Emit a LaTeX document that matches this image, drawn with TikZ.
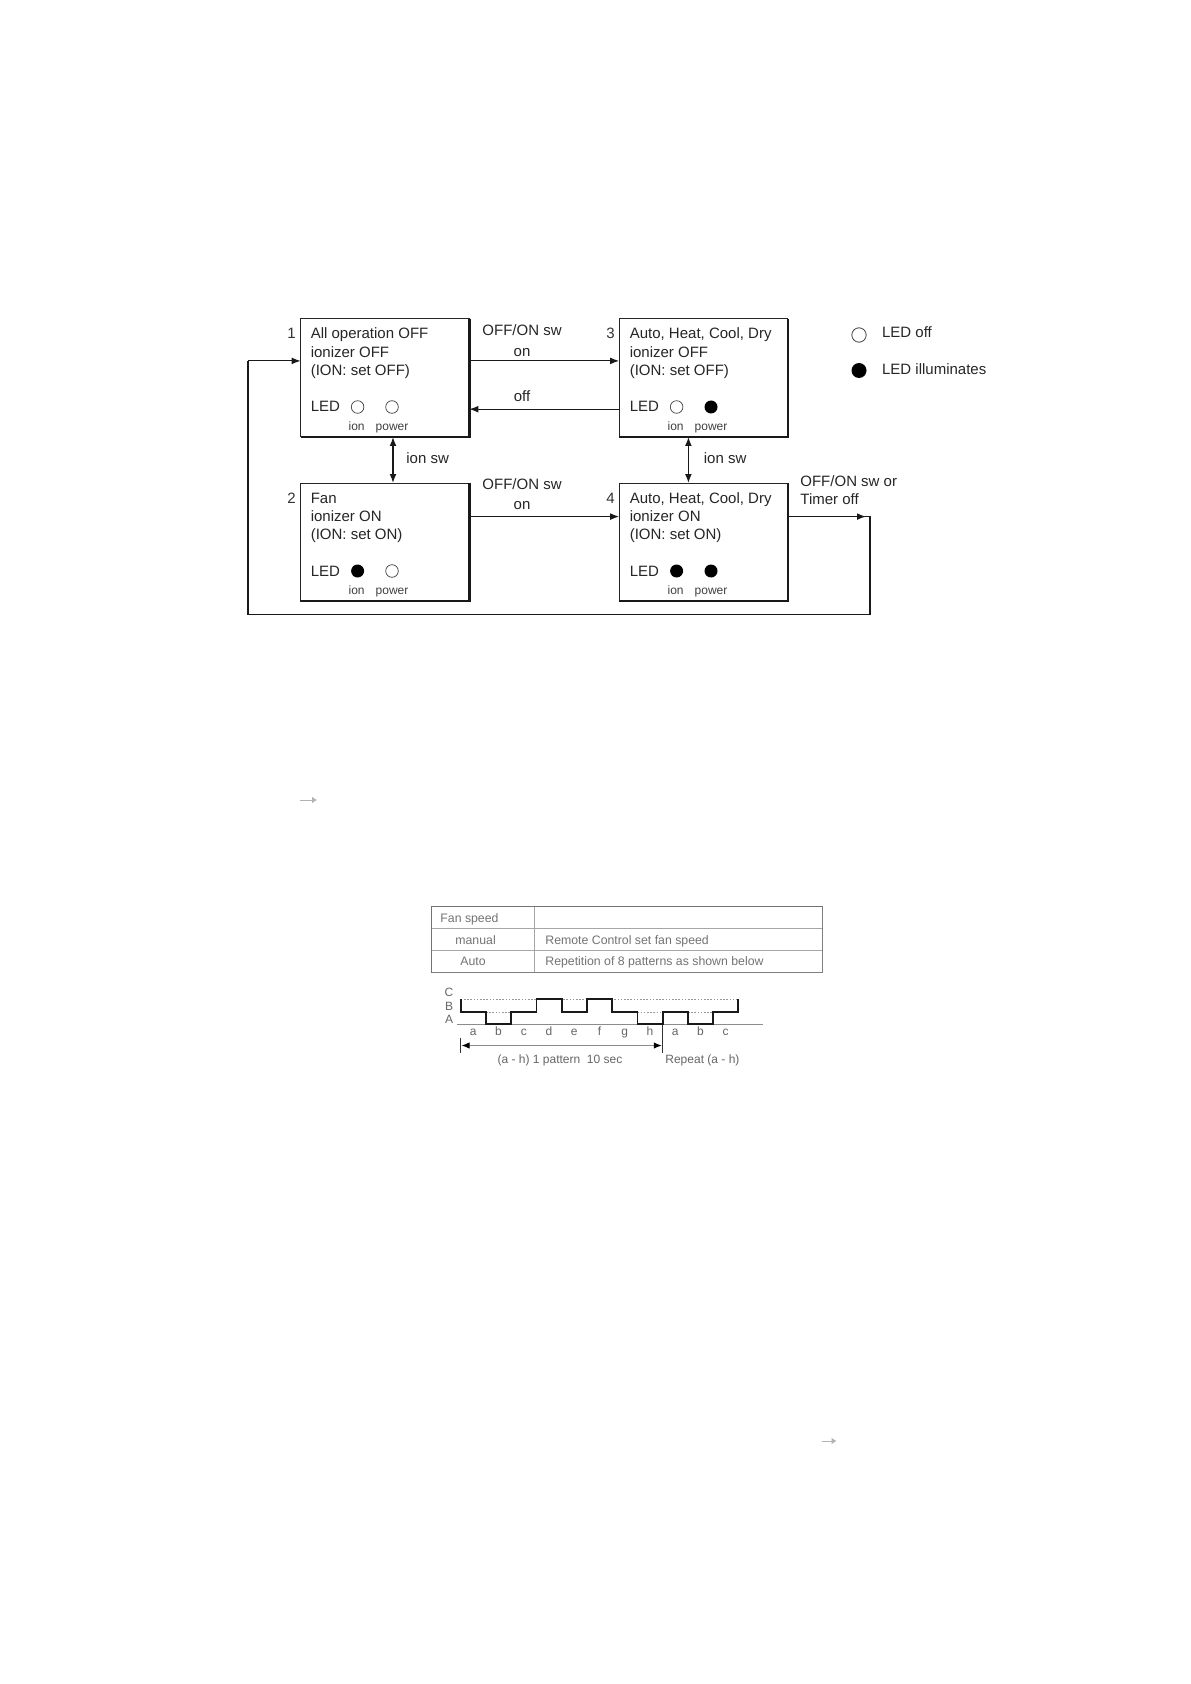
\documentclass[tikz,border=0pt]{standalone}
\usepackage{fontspec}
\setmainfont{Liberation Sans}
\usetikzlibrary{arrows.meta}
\begin{document}
\begin{tikzpicture}[x=0.5pt,y=-0.5pt,
  statebox/.style={draw=black!85, line width=0.5pt, minimum width=84.3pt, minimum height=59pt, inner sep=0pt, outer sep=0pt},
  boxshadow/.style={draw=black!90, line width=1.2pt},
  txt/.style={font=\fontsize{7.5}{9}\selectfont, text=black!85, inner sep=0pt, anchor=base west},
  ctxt/.style={font=\fontsize{7.5}{9}\selectfont, text=black!85, inner sep=0pt, anchor=base},
  numtxt/.style={font=\fontsize{7.5}{9}\selectfont, text=black!80, inner sep=0pt, anchor=base east},
  smalltxt/.style={font=\fontsize{6}{7}\selectfont, text=black!75, inner sep=0pt, anchor=base},
  tabtxt/.style={font=\fontsize{6.15}{7.5}\selectfont, text=black!55, inner sep=0pt, anchor=base west},
  charttxt/.style={font=\fontsize{6}{7}\selectfont, text=black!60, inner sep=0pt, anchor=base},
  ledoff/.style={circle, draw=black!75, line width=0.35pt, minimum size=6.3pt, inner sep=0pt},
  ledon/.style={circle, fill=black, minimum size=6.5pt, inner sep=0pt},
  legoff/.style={circle, draw=black!75, line width=0.4pt, minimum size=7.2pt, inner sep=0pt},
  legon/.style={circle, fill=black, minimum size=7.5pt, inner sep=0pt},
  conn/.style={draw=black!90, line width=0.6pt},
  arr/.style={conn, -{Latex[length=4.5pt,width=3.4pt]}},
  darr/.style={conn, {Latex[length=4.5pt,width=3.4pt]}-{Latex[length=4.5pt,width=3.4pt]}},
  wave/.style={draw=black!90, line width=0.9pt, line join=miter},
  grayline/.style={draw=black!45, line width=0.5pt},
  dotline/.style={draw=black!40, line width=0.5pt, dash pattern=on 0.8pt off 0.8pt},
  tabline/.style={draw=black!35, line width=0.4pt},
  tabframe/.style={draw=black!55, line width=0.5pt},
  smallarrow/.style={draw=black!30, line width=0.5pt, -{Latex[length=2.5pt,width=3.5pt]}}
]
\useasboundingbox[fill=white] (0,0) rectangle (1190,1684);

% ---------- state boxes ----------
\node[statebox] (b1) at (385,378) {};
\node[statebox] (b3) at (703.5,378) {};
\node[statebox] (b2) at (385,542) {};
\node[statebox] (b4) at (703.5,542) {};
\foreach \b in {b1,b2,b3,b4}{
  \draw[boxshadow] (\b.north east) -- (\b.south east) -- (\b.south west);
}

% numbers
\node[numtxt] (n1) at (296,339) {1};
\node[numtxt] (n3) at (615,339) {3};
\node[numtxt] (n2) at (296,503) {2};
\node[numtxt] (n4) at (615,503) {4};

% box 1
\node[txt] (t1a) at (310.4,339) {All operation OFF};
\node[txt] (t1b) at (310.4,357.3) {ionizer OFF};
\node[txt] (t1c) at (310.4,375.5) {(ION: set OFF)};
\node[txt] (t1d) at (310.4,412) {LED};
\node[ledoff] (l1i) at (357.6,407) {};
\node[ledoff] (l1p) at (392,407) {};
\node[smalltxt] (s1i) at (356.6,430.5) {ion};
\node[smalltxt] (s1p) at (392,430.5) {power};

% box 3
\node[txt] (t3a) at (629.4,339) {Auto, Heat, Cool, Dry};
\node[txt] (t3b) at (629.4,357.3) {ionizer OFF};
\node[txt] (t3c) at (629.4,375.5) {(ION: set OFF)};
\node[txt] (t3d) at (629.4,412) {LED};
\node[ledoff] (l3i) at (676.6,407) {};
\node[ledon] (l3p) at (711,407) {};
\node[smalltxt] (s3i) at (675.6,430.5) {ion};
\node[smalltxt] (s3p) at (711,430.5) {power};

% box 2
\node[txt] (t2a) at (310.4,503) {Fan};
\node[txt] (t2b) at (310.4,521.3) {ionizer ON};
\node[txt] (t2c) at (310.4,539.5) {(ION: set ON)};
\node[txt] (t2d) at (310.4,576) {LED};
\node[ledon] (l2i) at (357.6,571) {};
\node[ledoff] (l2p) at (392,571) {};
\node[smalltxt] (s2i) at (356.6,594.5) {ion};
\node[smalltxt] (s2p) at (392,594.5) {power};

% box 4
\node[txt] (t4a) at (629.4,503) {Auto, Heat, Cool, Dry};
\node[txt] (t4b) at (629.4,521.3) {ionizer ON};
\node[txt] (t4c) at (629.4,539.5) {(ION: set ON)};
\node[txt] (t4d) at (629.4,576) {LED};
\node[ledon] (l4i) at (676.6,571) {};
\node[ledon] (l4p) at (711,571) {};
\node[smalltxt] (s4i) at (675.6,594.5) {ion};
\node[smalltxt] (s4p) at (711,594.5) {power};

% ---------- connectors ----------
\draw[arr] (b1.east |- 0,360.9) -- (b3.west |- 0,360.9);
\node[ctxt] (c13a) at (522,335.8) {OFF/ON sw};
\node[ctxt] (c13b) at (522,356.2) {on};

\draw[arr] (b3.west |- 0,409.2) -- (b1.east |- 0,409.2);
\node[ctxt] (c31) at (522,401) {off};

\draw[darr] (b1.south -| 393,0) -- (b2.north -| 393,0);
\node[txt] (c12) at (406,463) {ion sw};
\draw[darr] (b3.south -| 688.4,0) -- (b4.north -| 688.4,0);
\node[txt] (c34) at (703.5,463) {ion sw};

\draw[arr] (b2.east |- 0,516.6) -- (b4.west |- 0,516.6);
\node[ctxt] (c24a) at (522,489.4) {OFF/ON sw};
\node[ctxt] (c24b) at (522,509.8) {on};

\coordinate (ret1) at (870,516.6);
\coordinate (ret2) at (870,614.3);
\coordinate (ret3) at (248,614.3);
\coordinate (ret4) at (248,360.9);
\draw[conn] (b4.east |- 0,516.6) -- (ret1) -- (ret2) -- (ret3) -- (ret4);
\draw[arr] (b4.east |- 0,516.6) -- (866,516.6);
\draw[arr] (ret4) -- (b1.west |- ret4);
\node[txt] (c41a) at (800,486.2) {OFF/ON sw or};
\node[txt] (c41b) at (800,504.4) {Timer off};

% ---------- legend ----------
\node[legoff] (lego) at (859,335) {};
\node[txt] (legot) at (881.7,338) {LED off};
\node[legon] (legi) at (859,370.5) {};
\node[txt] (legit) at (881.7,374.5) {LED illuminates};

% ---------- small arrows ----------
\draw[smallarrow] (300,800) -- (317,800);
\draw[smallarrow] (821.5,1441) -- (836.5,1441);

% ---------- table ----------
\draw[tabline] (431.5,928.3) -- (822.5,928.3);
\draw[tabline] (431.5,950) -- (822.5,950);
\draw[tabline] (534.3,906.7) -- (534.3,972.3);
\draw[tabframe] (431.5,906.7) rectangle (822.5,972.3);
\draw[draw=black!50, line width=0.8pt] (822.5,906.7) -- (822.5,972.3) -- (431.5,972.3);
\node[tabtxt] (tf) at (440,922) {Fan speed};
\node[tabtxt] (tm) at (455,944) {manual};
\node[tabtxt] (ta) at (460,965.5) {Auto};
\node[tabtxt] (tr) at (545,944) {Remote Control set fan speed};
\node[tabtxt] (tp) at (545,965.5) {Repetition of 8 patterns as shown below};

% ---------- timing chart ----------
\draw[grayline] (457,1024.3) -- (763,1024.3);
\draw[dotline] (460.7,999) -- (738.3,999);
\draw[dotline] (485.9,1012) -- (511.2,1012);
\draw[dotline] (637.4,1012) -- (662.6,1012);
\draw[dotline] (687.9,1012) -- (713.1,1012);
\draw[wave] (460.7,999) -- (460.7,1012) -- (485.9,1012) -- (485.9,1024) -- (511.2,1024)
  -- (511.2,1012) -- (536.4,1012) -- (536.4,999) -- (561.7,999) -- (561.7,1012)
  -- (586.9,1012) -- (586.9,999) -- (612.1,999) -- (612.1,1012) -- (637.4,1012)
  -- (637.4,1024) -- (662.6,1024) -- (662.6,1012) -- (687.9,1012) -- (687.9,1024)
  -- (713.1,1024) -- (713.1,1012) -- (738.3,1012) -- (738.3,999);
\node[charttxt] (lc) at (449,996.5) {C};
\node[charttxt] (lb) at (449,1010) {B};
\node[charttxt] (la) at (449,1023) {A};
\foreach \l [count=\i from 0] in {a,b,c,d,e,f,g,h,a,b,c}{
  \node[charttxt] (seg\i) at ({473.3+25.24*\i},1035) {\l};
}
\draw[draw=black!80, line width=0.6pt] (460.7,1037.5) -- (460.7,1053);
\draw[draw=black!80, line width=0.6pt] (662.6,1025) -- (662.6,1053);
\draw[draw=black!45, line width=0.5pt, {Latex[length=4pt,width=3.2pt,black]}-{Latex[length=4pt,width=3.2pt,black]}] (461.5,1045.5) -- (661.8,1045.5);
\node[charttxt] (dim1) at (560,1063) {(a - h) 1 pattern \ 10 sec};
\node[charttxt, anchor=base west] (dim2) at (665,1063) {Repeat (a - h)};
\end{tikzpicture}
\end{document}
